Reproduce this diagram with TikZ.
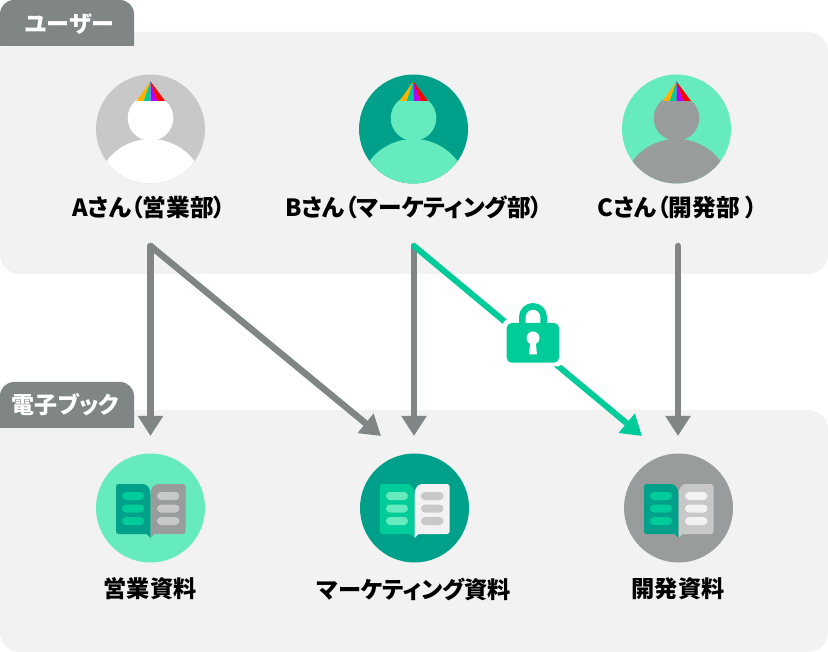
\documentclass[tikz,border=0pt]{standalone}
\usepackage{fontspec}
\setmainfont[RawFeature=+palt]{Noto Sans CJK JP}
\usetikzlibrary{arrows.meta}
\definecolor{panelc}{HTML}{F2F2F2}
\definecolor{tabc}{HTML}{7F8685}
\definecolor{darkg}{HTML}{00A08A}
\definecolor{midg}{HTML}{00CC99}
\definecolor{lightg}{HTML}{66EBBF}
\definecolor{greyA}{HTML}{C8C8C8}
\definecolor{greyB}{HTML}{999C9C}
\definecolor{paleA}{HTML}{F2F2F2}
\definecolor{hatA}{HTML}{FFB300}
\definecolor{hatB}{HTML}{00CC99}
\definecolor{hatC}{HTML}{B400FF}
\definecolor{hatD}{HTML}{FF0000}
\tikzset{
  x=1pt,y=-1pt,
  panel/.style={fill=panelc,draw=none},
  tabbox/.style={fill=tabc,draw=none},
  tabtext/.style={text=white,font=\fontsize{23}{23}\selectfont\bfseries,inner sep=0pt},
  namelabel/.style={text=black,font=\fontsize{23.7}{24}\selectfont\bfseries,inner sep=0pt},
  doclabel/.style={text=black,font=\fontsize{23.2}{24}\selectfont\bfseries,inner sep=0pt},
  grayarrow/.style={draw=tabc,line width=6.5pt,line cap=round,-{Triangle[length=20pt,width=24pt]}},
  greenarrow/.style={draw=midg,line width=6pt,line cap=round,-{Triangle[length=20pt,width=24pt]}},
}
\newcommand{\personicon}[4]{%
  \begin{scope}
    \fill[#3] (#1,#2) circle[radius=54.5];
    \clip (#1,#2) circle[radius=54.5];
    \fill[#4] (#1,#2+65) circle[radius=55];
    \fill[#4] (#1,#2-11) circle[radius=22.8];
  \end{scope}
  \fill[hatA] (#1,#2-47.5) -- (#1-14,#2-28) -- (#1-6.7,#2-28) -- cycle;
  \fill[hatB] (#1,#2-47.5) -- (#1-6.7,#2-28) -- (#1,#2-28) -- cycle;
  \fill[hatC] (#1,#2-47.5) -- (#1,#2-28) -- (#1+7,#2-28) -- cycle;
  \fill[hatD] (#1,#2-47.5) -- (#1+7,#2-28) -- (#1+14.5,#2-28) -- cycle;
}
% cx cy bg leftpage leftpill rightpage rightpill
\newcommand{\bookicon}[7]{%
  \fill[#3] (#1,#2) circle[radius=54.5];
  \fill[#4,rounded corners=2.5pt] (#1-34.5,#2-24) -- (#1-10,#2-24) [sharp corners] .. controls (#1-4,#2-24) and (#1,#2-20) .. (#1,#2-14) -- (#1,#2+30) -- (#1-4,#2+26) [rounded corners=2.5pt] -- (#1-34.5,#2+26) -- cycle;
  \fill[#6,rounded corners=2.5pt] (#1+35,#2-24) -- (#1+10,#2-24) [sharp corners] .. controls (#1+4,#2-24) and (#1,#2-20) .. (#1,#2-14) -- (#1,#2+30) -- (#1+4,#2+26) [rounded corners=2.5pt] -- (#1+35,#2+26) -- cycle;
  \foreach \dy in {-12,0.5,13}{
    \fill[#5,rounded corners=4pt] (#1-28.5,#2+\dy-4) rectangle (#1-6.5,#2+\dy+4);
    \fill[#7,rounded corners=4pt] (#1+6.5,#2+\dy-4) rectangle (#1+29,#2+\dy+4);
  }
}
\begin{document}
\begin{tikzpicture}
\useasboundingbox (0,0) rectangle (828,652);
\fill[white] (0,0) rectangle (828,652);
% panels
\fill[panel,rounded corners=20pt] (0,32) rectangle (828,274);
\fill[panel,rounded corners=20pt] (0,410) rectangle (828,652);
% tabs
\fill[tabbox,rounded corners=14pt] (0,46) -- (0,0) -- (134,0) -- (134,46);
\fill[tabbox] (0,32) rectangle (134,46);
\fill[tabbox,rounded corners=14pt] (0,428) -- (0,382) -- (134,382) -- (134,428);
\fill[tabbox] (0,414) rectangle (134,428);
\node[tabtext,anchor=center] (tabuser) at (69.5,24) {ユーザー};
\node[tabtext,anchor=center] (tabbook) at (65.5,405) {電子ブック};
% persons
\personicon{150.5}{129}{greyA}{white}
\personicon{413.5}{129}{darkg}{lightg}
\personicon{676.5}{129}{lightg}{greyB}
\node[namelabel] (la) at (149,207) {Aさん（営業部）};
\node[namelabel] (lb) at (414,207) {Bさん（マーケティング部）};
\node[namelabel] (lc) at (677.5,207) {Cさん（開発部 ）};
% connector start / end points
\coordinate (sa) at (150.5,246);
\coordinate (sb) at (414,246);
\coordinate (sc) at (678,246);
\coordinate (ea) at (150.5,436);
\coordinate (eb1) at (381,436);
\coordinate (eb2) at (414,436);
\coordinate (ec1) at (642,436);
\coordinate (ec2) at (678,436);
\draw[grayarrow] (sa) -- (ea);
\draw[grayarrow] (sa) -- (eb1);
\draw[grayarrow] (sb) -- (eb2);
\draw[greenarrow] (sb) -- (ec1);
\draw[grayarrow] (sc) -- (ec2);
% lock
\fill[white,rounded corners=6pt] (503,319) rectangle (563,366.5);
\draw[midg,line width=6.5pt] (522.3,325) -- (522.3,317) arc[start angle=180,end angle=360,radius=10.7] -- (543.7,325);
\fill[midg,rounded corners=5pt] (506.7,323) rectangle (559,362.7);
\fill[white] (533,338) circle[radius=6.5];
\fill[white] (530.5,340) -- (535.5,340) -- (537,354.5) -- (529,354.5) -- cycle;
% books
\bookicon{150.5}{508}{lightg}{darkg}{midg}{greyB}{greyA}
\bookicon{414.5}{508}{darkg}{midg}{lightg}{paleA}{greyA}
\bookicon{678.5}{508}{greyB}{darkg}{midg}{greyA}{paleA}
\node[doclabel] (ba) at (150,589) {営業資料};
\node[doclabel] (bb) at (414,589) {マーケティング資料};
\node[doclabel] (bc) at (678,589) {開発資料};
\end{tikzpicture}
\end{document}
